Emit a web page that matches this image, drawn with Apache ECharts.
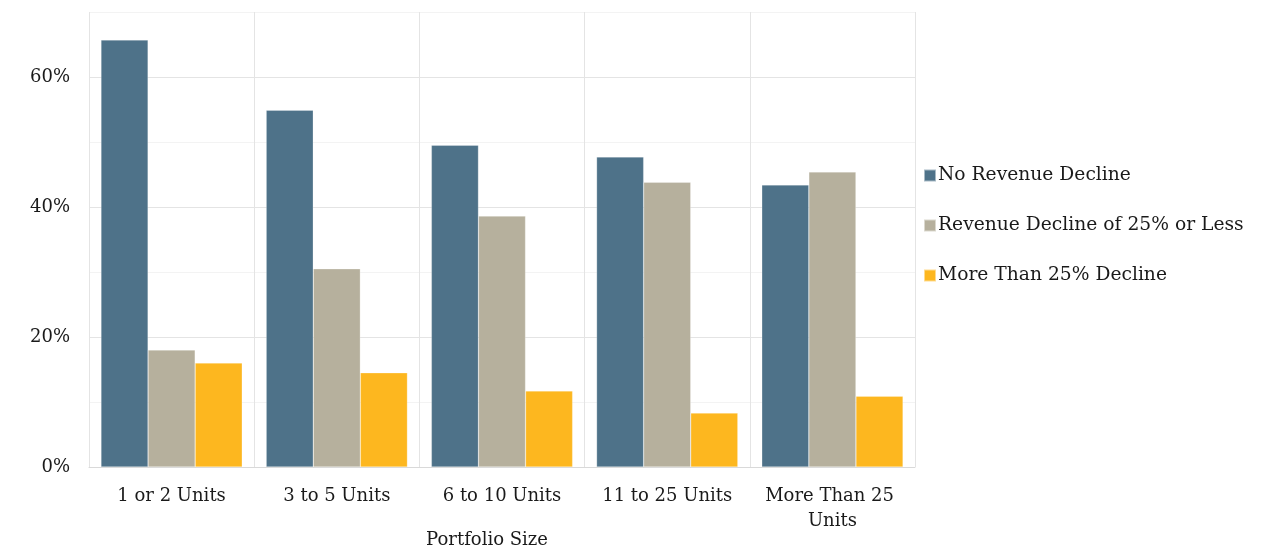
<!DOCTYPE html>
<html><head><meta charset="utf-8">
<script src="https://cdn.jsdelivr.net/npm/echarts@6/dist/echarts.min.js"></script>
<style>html,body{margin:0;padding:0;background:#fff}#c{width:1262px;height:552px}</style>
</head><body><div id="c"></div>
<script>
const categories = ['1 or 2 Units', '3 to 5 Units', '6 to 10 Units', '11 to 25 Units', 'More Than 25 Units'];
const seriesNames = ['No Revenue Decline', 'Revenue Decline of 25% or Less', 'More Than 25% Decline'];
const noDecline = [65.7, 54.9, 49.5, 47.7, 43.4];
const declineUpTo25 = [18.0, 30.5, 38.6, 43.8, 45.4];
const declineOver25 = [16.0, 14.5, 11.7, 8.3, 10.9];
const yTicks = [0, 20, 40, 60];
const colors = ['#4e7289', '#b6b09d', '#fdb71f'];
const FONT = 'DejaVu Serif';

const chart = echarts.init(document.getElementById('c'));
const values = [noDecline, declineUpTo25, declineOver25];
chart.setOption({
  animation: false,
  color: colors,
  grid: {left: 89, right: 347, top: 12, bottom: 85, containLabel: false, outerBoundsMode: 'none', show: false},
  legend: {
    orient: 'vertical', left: 918, top: 161,
    itemWidth: 12, itemHeight: 12, itemGap: 31,
    icon: 'rect',
    textStyle: {fontFamily: FONT, fontSize: 18.7, color: '#1a1a1a', padding: [0,0,0,-3]},
    data: seriesNames
  },
  xAxis: {
    type: 'category', data: categories,
    name: 'Portfolio Size', nameLocation: 'middle', nameGap: 64, nameMoveOverlap: false,
    nameTextStyle: {fontFamily: FONT, fontSize: 18, color: '#1a1a1a', padding: [0, 30, 0, 0]},
    axisLine: {lineStyle: {color: '#d9d9d9'}},
    axisTick: {show: false},
    axisLabel: {interval: 0, fontFamily: FONT, fontSize: 18, color: '#1a1a1a', margin: 17, width: 160, overflow: 'break', lineHeight: 25},
    splitLine: {show: true, interval: 0, lineStyle: {color: '#e4e4e4'}}
  },
  yAxis: {
    type: 'value', min: 0, max: 70, interval: 10,
    axisLine: {show: false}, axisTick: {show: false},
    axisLabel: {fontFamily: FONT, fontSize: 18, color: '#1a1a1a', margin: 19,
      formatter: v => yTicks.includes(v) ? v + '%' : ''},
    splitLine: {lineStyle: {color: ['#e4e4e4', '#f3f3f3']}}
  },
  series: seriesNames.map((n, i) => ({
    name: n, type: 'bar', data: values[i],
    barGap: '0%', barCategoryGap: '14.5%',
    itemStyle: {borderColor: 'rgba(255,255,255,0.5)', borderWidth: 0.5}
  }))
});
</script></body></html>
